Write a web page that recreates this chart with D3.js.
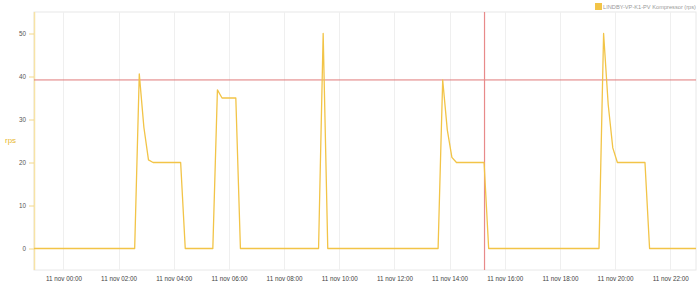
<!DOCTYPE html>
<html>
<head>
<meta charset="utf-8">
<script src="https://cdn.jsdelivr.net/npm/d3@7"></script>
<style>
  html, body { margin: 0; padding: 0; background: #fff; }
  svg { display: block; font-family: "Liberation Sans", Arial, sans-serif; }
</style>
</head>
<body>
<svg id="chart" width="700" height="288"></svg>
<script>
// ---- data ----
const seriesName = "LINDBY-VP-K1-PV Kompressor (rps)";
const yLabel = "rps";
const times = [
  "2023-11-10T22:56", "2023-11-11T02:35", "2023-11-11T02:45", "2023-11-11T02:55",
  "2023-11-11T03:05", "2023-11-11T03:15", "2023-11-11T04:15", "2023-11-11T04:25",
  "2023-11-11T05:25", "2023-11-11T05:35", "2023-11-11T05:45", "2023-11-11T06:15",
  "2023-11-11T06:25", "2023-11-11T09:15", "2023-11-11T09:25", "2023-11-11T09:35",
  "2023-11-11T13:35", "2023-11-11T13:45", "2023-11-11T13:55", "2023-11-11T14:05",
  "2023-11-11T14:15", "2023-11-11T15:15", "2023-11-11T15:25", "2023-11-11T19:25",
  "2023-11-11T19:35", "2023-11-11T19:45", "2023-11-11T19:55", "2023-11-11T20:05",
  "2023-11-11T21:05", "2023-11-11T21:15", "2023-11-11T22:56"
];
const values = [
  0, 0, 40.6, 28.2,
  20.6, 20, 20, 0,
  0, 36.9, 35, 35,
  0, 0, 50, 0,
  0, 39.2, 27.6, 21.2,
  20, 20, 0, 0,
  50, 33.5, 23.4, 20,
  20, 0, 0
];
const yTicks = [0, 10, 20, 30, 40, 50];
const xTickTimes = ["2023-11-11T00:00","2023-11-11T02:00","2023-11-11T04:00","2023-11-11T06:00",
  "2023-11-11T08:00","2023-11-11T10:00","2023-11-11T12:00","2023-11-11T14:00",
  "2023-11-11T16:00","2023-11-11T18:00","2023-11-11T20:00","2023-11-11T22:00"];
const xDomain = ["2023-11-10T22:56", "2023-11-11T22:56"];
const yDomain = [-5, 55];
const thresholdValue = 39.2;
const markerTime = "2023-11-11T15:16";

// ---- layout ----
const L = 34, R = 696, T = 12, B = 270;
const parse = d3.isoParse;
const svg = d3.select("#chart");

const x = d3.scaleTime().domain(xDomain.map(parse)).range([L, R]);
const y = d3.scaleLinear().domain(yDomain).range([B, T]);

const data = times.map((t, i) => ({ t: parse(t), v: values[i] }));

// plot border
svg.append("rect").attr("x", L).attr("y", T).attr("width", R - L).attr("height", B - T)
  .attr("fill", "none").attr("stroke", "#e8e8e8").attr("stroke-width", 1);

// vertical grid lines
const ticks = xTickTimes.map(parse);
svg.append("g").selectAll("line").data(ticks).join("line")
  .attr("x1", d => Math.round(x(d)) + 0.5).attr("x2", d => Math.round(x(d)) + 0.5)
  .attr("y1", T).attr("y2", B)
  .attr("stroke", "#efefef").attr("stroke-width", 1);

// x axis labels
const fmt = d3.timeFormat("%H:%M");
const xAxis = d3.axisBottom(x).tickValues(ticks)
  .tickFormat(d => "11 nov " + fmt(d)).tickSize(0).tickPadding(6);
const gx = svg.append("g").attr("transform", `translate(0,${B + 1})`).call(xAxis);
gx.select(".domain").remove();
gx.selectAll("text").attr("fill", "#444").attr("font-size", 6.3)
  .attr("font-family", "Liberation Sans, Arial, sans-serif");

// y axis
const yAxis = d3.axisLeft(y).tickValues(yTicks).tickSize(5).tickPadding(3);
const gy = svg.append("g").attr("transform", `translate(${L},0)`).call(yAxis);
gy.select(".domain").attr("stroke", "#f7e3a6").attr("stroke-width", 1.5)
  .attr("d", `M0.5,${T}V${B}`);
gy.selectAll(".tick line").attr("stroke", "#f3d88a");
gy.selectAll("text").attr("fill", "#555").attr("font-size", 6.3)
  .attr("font-family", "Liberation Sans, Arial, sans-serif");

// y label
svg.append("text").attr("x", 5).attr("y", 141)
  .attr("fill", "#e8b830").attr("font-size", 8)
  .attr("dominant-baseline", "middle").text(yLabel);

// threshold and marker lines
svg.append("line").attr("x1", L).attr("x2", R)
  .attr("y1", y(thresholdValue)).attr("y2", y(thresholdValue))
  .attr("stroke", "#e07a7a").attr("stroke-width", 1);
svg.append("line").attr("x1", x(parse(markerTime))).attr("x2", x(parse(markerTime)))
  .attr("y1", T).attr("y2", B)
  .attr("stroke", "#e88a8a").attr("stroke-width", 1.2);

// series line
const line = d3.line().x(d => x(d.t)).y(d => y(d.v));
svg.append("path").datum(data).attr("d", line)
  .attr("fill", "none").attr("stroke", "#f2c447").attr("stroke-width", 1.3)
  .attr("stroke-linejoin", "round");

// legend
const lg = svg.append("g");
lg.append("rect").attr("x", 595).attr("y", 3).attr("width", 7).attr("height", 7)
  .attr("fill", "#f2c447");
lg.append("text").attr("x", 603).attr("y", 9).attr("fill", "#999")
  .attr("font-size", 6).attr("textLength", 93).attr("lengthAdjust", "spacingAndGlyphs")
  .text(seriesName);
</script>
</body>
</html>
